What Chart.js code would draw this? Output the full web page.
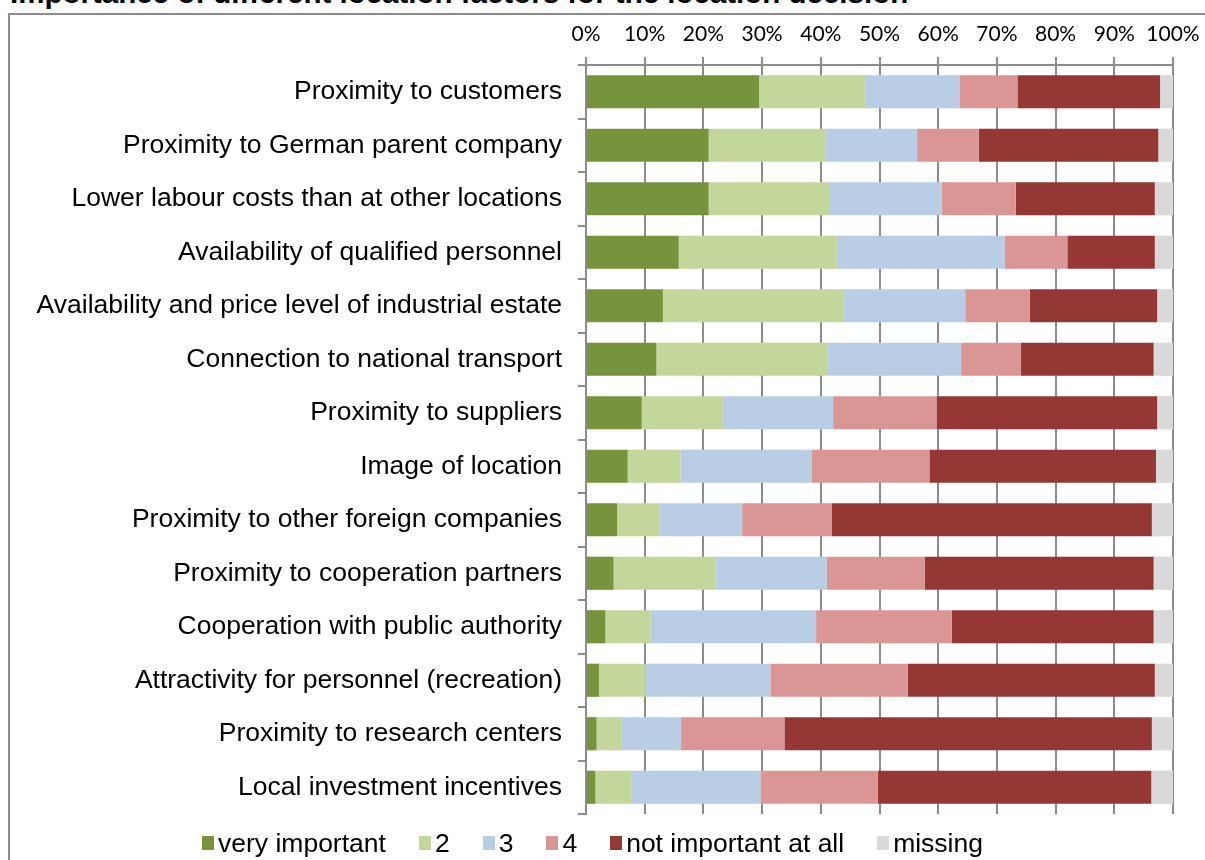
<!DOCTYPE html>
<html>
<head>
<meta charset="utf-8">
<script src="https://cdn.jsdelivr.net/npm/chart.js@4/dist/chart.umd.min.js"></script>
<style>
  html, body { margin: 0; padding: 0; background: #fff; overflow: hidden; }
  #page { position: relative; width: 1205px; height: 860px; overflow: hidden; }
  #frame { position: absolute; left: 8px; top: 13px; width: 1400px; height: 1000px;
           border-left: 2px solid #8c8c8c; border-top: 2px solid #8c8c8c; }
  #title { position: absolute; left: 10px; top: -22px; white-space: nowrap;
           font: bold 29.5px/29.5px "Liberation Sans", Arial, sans-serif; color: #000; }
  #chartWrap { position: absolute; left: 0; top: 0; width: 1205px; height: 860px; }
  #legend { position: absolute; left: 202px; top: 828px; display: flex;
            justify-content: flex-start; align-items: center;
            font: 26.5px/30px "Liberation Sans", Arial, sans-serif; color: #000; }
  .item { display: flex; align-items: center; margin-right: 33px; white-space: nowrap; }
  .item:last-child { margin-right: 0; }
  .box { width: 12px; height: 14px; margin-right: 4px; }
</style>
</head>
<body>
<div id="page">
  <div id="frame"></div>
  <div id="title">Importance of different location factors for the location decision</div>
  <div id="chartWrap"><canvas id="chartFactores" width="1205" height="860"></canvas></div>
  <div id="legend"></div>
</div>
<script>
// datos (porcentajes)
const categorias = [
    'Proximity to customers',
    'Proximity to German parent company',
    'Lower labour costs than at other locations',
    'Availability of qualified personnel',
    'Availability and price level of industrial estate',
    'Connection to national transport',
    'Proximity to suppliers',
    'Image of location',
    'Proximity to other foreign companies',
    'Proximity to cooperation partners',
    'Cooperation with public authority',
    'Attractivity for personnel (recreation)',
    'Proximity to research centers',
    'Local investment incentives'
];
const muyImportante = [29.5, 20.9, 20.9, 15.8, 13.1, 12.0, 9.5, 7.1, 5.3, 4.7, 3.3, 2.2, 1.8, 1.6];
const nivel2        = [18.0, 19.9, 20.5, 26.9, 30.7, 29.2, 13.8, 9.0, 7.2, 17.4, 7.7, 7.9, 4.2, 6.1];
const nivel3        = [16.2, 15.6, 19.2, 28.6, 20.8, 22.7, 18.8, 22.3, 14.1, 18.9, 28.2, 21.3, 10.2, 22.0];
const nivel4        = [9.8, 10.5, 12.6, 10.7, 11.0, 10.2, 17.6, 20.1, 15.3, 16.7, 23.1, 23.4, 17.6, 20.0];
const nadaImportante = [24.3, 30.6, 23.7, 14.9, 21.7, 22.6, 37.6, 38.6, 54.5, 39.0, 34.4, 42.1, 62.6, 46.6];
const faltante      = [2.2, 2.5, 3.1, 3.1, 2.7, 3.3, 2.7, 2.9, 3.6, 3.3, 3.3, 3.1, 3.6, 3.7];

const series = [
    { label: 'very important', data: muyImportante, color: '#77933C' },
    { label: '2', data: nivel2, color: '#C3D69B' },
    { label: '3', data: nivel3, color: '#B9CDE5' },
    { label: '4', data: nivel4, color: '#D99694' },
    { label: 'not important at all', data: nadaImportante, color: '#953735' },
    { label: 'missing', data: faltante, color: '#D9D9D9' }
];

const gris = '#8c8c8c';

const chartFactores = new Chart(document.getElementById('chartFactores'), {
    type: 'bar',
    data: {
        labels: categorias,
        datasets: series.map(s => ({
            label: s.label,
            data: s.data,
            backgroundColor: s.color,
            borderWidth: 0,
            barPercentage: 0.62,
            categoryPercentage: 1
        }))
    },
    options: {
        indexAxis: 'y',
        responsive: false,
        animation: false,
        devicePixelRatio: 1,
        layout: { padding: { left: 0, right: 32, top: 0, bottom: 46 } },
        plugins: {
            legend: { display: false },
            tooltip: { enabled: false }
        },
        scales: {
            x: {
                stacked: true,
                position: 'top',
                min: 0,
                max: 100,
                ticks: {
                    stepSize: 10,
                    autoSkip: false,
                    maxRotation: 0,
                    padding: 10,
                    color: '#000',
                    font: { family: 'Lato', size: 21 },
                    callback: v => v + '%'
                },
                grid: { color: gris, lineWidth: 2, tickLength: 8 },
                border: { color: gris, width: 2 },
                afterFit: scale => {
                    scale.height = 65;
                    scale.paddingLeft = 0;
                    scale.paddingRight = 0;
                }
            },
            y: {
                stacked: true,
                ticks: {
                    autoSkip: false,
                    padding: 16,
                    color: '#000',
                    font: { family: 'Liberation Sans', size: 26.5 }
                },
                grid: { drawOnChartArea: false, color: gris, lineWidth: 2, tickLength: 8 },
                border: { color: gris, width: 2 },
                afterFit: scale => { scale.width = 586; }
            }
        }
    }
});

// leyenda en html
const leyenda = document.getElementById('legend');
series.forEach(s => {
    const item = document.createElement('div');
    item.className = 'item';
    const caja = document.createElement('span');
    caja.className = 'box';
    caja.style.background = s.color;
    const texto = document.createElement('span');
    texto.textContent = s.label;
    item.appendChild(caja);
    item.appendChild(texto);
    leyenda.appendChild(item);
});
</script>
</body>
</html>
